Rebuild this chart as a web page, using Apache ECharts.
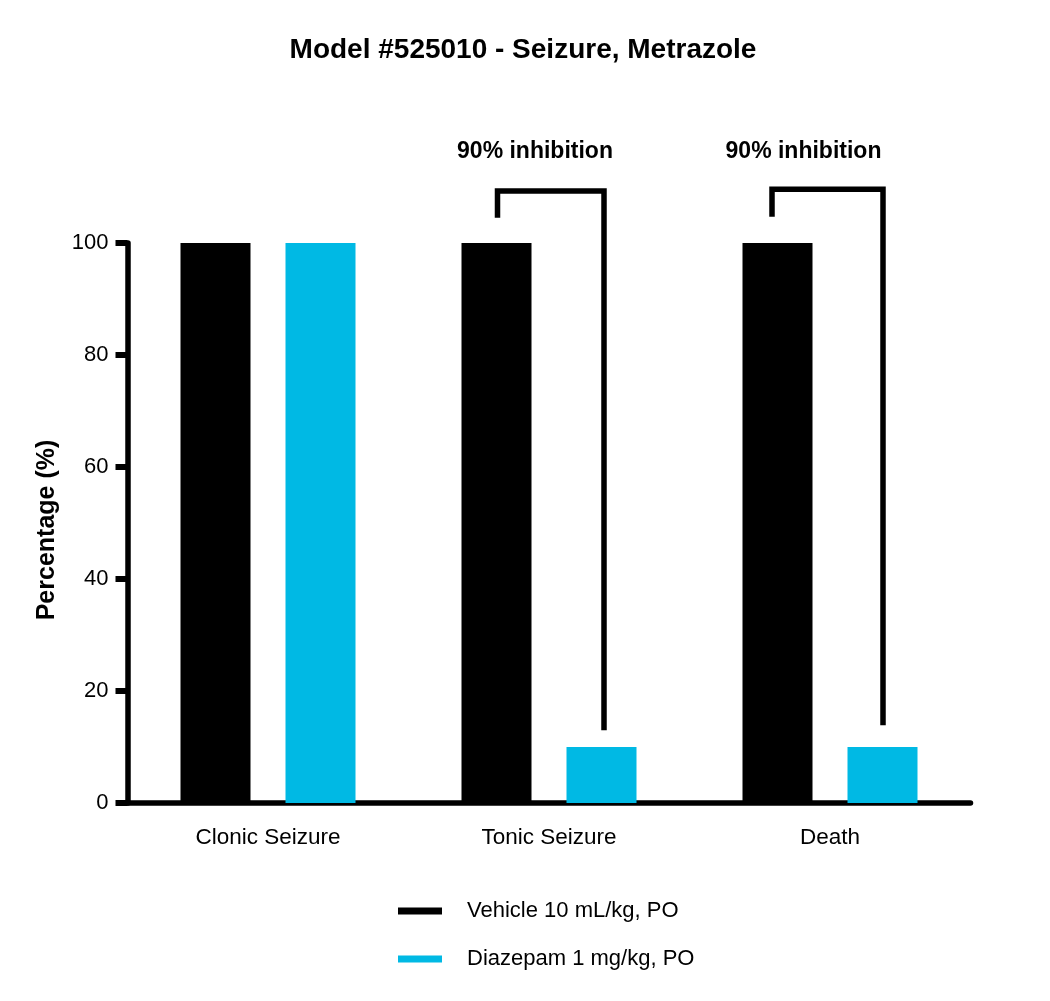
<!DOCTYPE html>
<html>
<head>
<meta charset="utf-8">
<script src="https://cdn.jsdelivr.net/npm/echarts@6/dist/echarts.min.js"></script>
<style>html,body{margin:0;padding:0;background:#fff}#c{width:1050px;height:1001px}</style>
</head>
<body>
<div id="c"></div>
<script>
const categories = ['Clonic Seizure', 'Tonic Seizure', 'Death'];
const vehicleValues = [100, 100, 100];
const diazepamValues = [100, 10, 10];
const seriesNames = ['Vehicle 10 mL/kg, PO', 'Diazepam 1 mg/kg, PO'];
const yTicks = [0, 20, 40, 60, 80, 100];
// brackets: category index, left-leg end, top, right-leg end, label height
const bracketCats = [1, 2];
const bracketLeftEnd = [104.5, 104.7];
const bracketTop = [109.3, 109.6];
const bracketRightEnd = [13, 13.9];
const bracketLabelY = [116.3, 116.3];
const bracketLabels = ['90% inhibition', '90% inhibition'];

const FONT = 'Liberation Sans, Arial, Helvetica, sans-serif';
const BLACK = '#000000';
const CYAN = '#00B9E4';
// layout offsets (px) of bracket legs / labels relative to category centre
const legOffL = [-51.5, -58];
const legOffR = [55, 53];
const labelOff = [-14, -26.5];

const chart = echarts.init(document.getElementById('c'));
const bracketData = bracketCats.map((c, i) => [c, bracketLeftEnd[i], bracketTop[i], bracketRightEnd[i], bracketLabelY[i], i]);

chart.setOption({
  animation: false,
  backgroundColor: '#fff',
  title: {
    text: 'Model #525010 - Seizure, Metrazole',
    left: 518, top: 31, textAlign: 'center',
    textStyle: { fontFamily: FONT, fontSize: 28, fontWeight: 'bold', color: '#000' }
  },
  legend: {
    orient: 'vertical', left: 393, top: 895, itemGap: 26,
    itemWidth: 44, itemHeight: 7, icon: 'rect',
    data: seriesNames,
    textStyle: { fontFamily: FONT, fontSize: 22, color: '#000', padding: [0, 0, 0, 20] }
  },
  grid: { left: 127.5, right: 79.5, top: 243, bottom: 198 },
  xAxis: {
    type: 'category', data: categories,
    axisLine: { lineStyle: { color: '#000', width: 5.5 } },
    axisTick: { alignWithLabel: true, length: 11, lineStyle: { color: '#000', width: 6 } },
    axisLabel: { margin: 23, fontFamily: FONT, fontSize: 22.5, color: '#000' }
  },
  yAxis: {
    type: 'value', min: 0, max: 100, interval: 20,
    name: 'Percentage (%)', nameLocation: 'middle', nameGap: 68,
    nameTextStyle: { fontFamily: FONT, fontSize: 25, fontWeight: 'bold', color: '#000', padding: [0, 14, 0, 0] },
    axisLine: { show: true, lineStyle: { color: '#000', width: 5.5 } },
    axisTick: { show: true, length: 12, lineStyle: { color: '#000', width: 6 } },
    axisLabel: { margin: 19, fontFamily: FONT, fontSize: 22, color: '#000',
      formatter: v => yTicks.indexOf(v) >= 0 ? String(v) : '' },
    splitLine: { show: false }
  },
  series: [
    { name: seriesNames[0], type: 'bar', data: vehicleValues, barWidth: 70, barGap: '50%',
      itemStyle: { color: BLACK }, z: 1 },
    { name: seriesNames[1], type: 'bar', data: diazepamValues, barWidth: 70,
      itemStyle: { color: CYAN }, z: 1 },
    { type: 'custom', clip: false, z: 5, data: bracketData,
      renderItem: function (params, api) {
        const idx = api.value(5);
        const cat = api.value(0);
        const pL = api.coord([cat, api.value(1)]);
        const pT = api.coord([cat, api.value(2)]);
        const pR = api.coord([cat, api.value(3)]);
        const pLab = api.coord([cat, api.value(4)]);
        const lx = pL[0] + legOffL[idx];
        const rx = pL[0] + legOffR[idx];
        return {
          type: 'group',
          children: [
            { type: 'polyline',
              shape: { points: [[lx, pL[1]], [lx, pT[1]], [rx, pT[1]], [rx, pR[1]]] },
              style: { stroke: '#000', lineWidth: 5.5, fill: null, lineJoin: 'miter', lineCap: 'butt' } },
            { type: 'text',
              style: { x: pLab[0] + labelOff[idx], y: pLab[1], text: bracketLabels[idx],
                textAlign: 'center', textVerticalAlign: 'middle',
                font: 'bold 23px ' + FONT, fill: '#000' } }
          ]
        };
      }
    }
  ]
});
</script>
</body>
</html>
